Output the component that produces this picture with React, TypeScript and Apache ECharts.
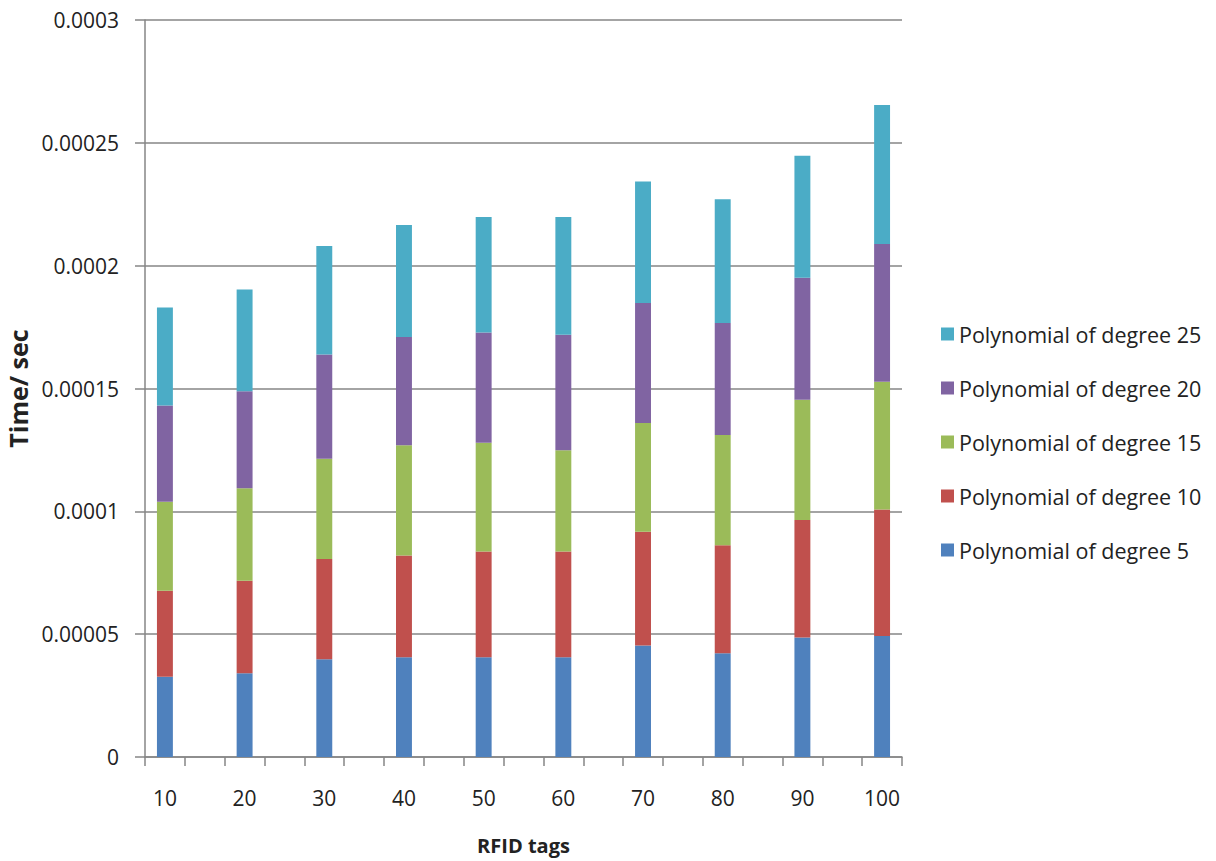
import React, { useEffect, useRef } from "react";
import * as echarts from "echarts";

const tags = ["10", "20", "30", "40", "50", "60", "70", "80", "90", "100"];
const seriesNames = [
  "Polynomial of degree 5",
  "Polynomial of degree 10",
  "Polynomial of degree 15",
  "Polynomial of degree 20",
  "Polynomial of degree 25",
];
const deg5 = [3.27e-5, 3.41e-5, 3.98e-5, 4.06e-5, 4.06e-5, 4.06e-5, 4.54e-5, 4.22e-5, 4.86e-5, 4.93e-5];
const deg10 = [3.5e-5, 3.76e-5, 4.08e-5, 4.14e-5, 4.31e-5, 4.31e-5, 4.63e-5, 4.4e-5, 4.79e-5, 5.14e-5];
const deg15 = [3.62e-5, 3.77e-5, 4.08e-5, 4.49e-5, 4.42e-5, 4.12e-5, 4.43e-5, 4.49e-5, 4.89e-5, 5.2e-5];
const deg20 = [3.92e-5, 3.95e-5, 4.24e-5, 4.41e-5, 4.49e-5, 4.7e-5, 4.88e-5, 4.56e-5, 4.97e-5, 5.61e-5];
const deg25 = [3.99e-5, 4.14e-5, 4.42e-5, 4.56e-5, 4.7e-5, 4.79e-5, 4.95e-5, 5.03e-5, 4.96e-5, 5.66e-5];
const colors = ["#4F81BD", "#C0504D", "#9BBB59", "#8064A2", "#4BACC6"];
const yTicks = [0, 0.00005, 0.0001, 0.00015, 0.0002, 0.00025, 0.0003];

// Excel-style axis: a blank slot between each labelled category
const categories: string[] = [];
tags.forEach((t, i) => {
  categories.push(t);
  if (i < tags.length - 1) categories.push("");
});
const spread = (vals: number[]) => {
  const out: (number | string)[] = [];
  vals.forEach((v, i) => {
    out.push(v);
    if (i < vals.length - 1) out.push("-");
  });
  return out;
};

const FONT = "'Open Sans', sans-serif";

export default function App() {
  const ref = useRef<HTMLDivElement>(null);
  useEffect(() => {
    if (!ref.current) return;
    const chart = echarts.init(ref.current, undefined, { renderer: "svg" });
    const all = [deg5, deg10, deg15, deg20, deg25];
    chart.setOption({
      animation: false,
      backgroundColor: "#ffffff",
      grid: {
        left: 145,
        right: 314,
        top: 20,
        bottom: 104,
        containLabel: false,
        outerBoundsMode: "none",
      },
      legend: {
        orient: "vertical",
        left: 936,
        top: 318,
        itemWidth: 13,
        itemHeight: 13,
        itemGap: 32,
        icon: "rect",
        data: [...seriesNames].reverse(),
        textStyle: { fontFamily: FONT, fontSize: 21.5, color: "#222", lineHeight: 22 },
      },
      xAxis: {
        type: "category",
        data: categories,
        boundaryGap: true,
        name: "RFID tags",
        nameLocation: "middle",
        nameGap: 78,
        nameTextStyle: { fontFamily: FONT, fontSize: 20, fontWeight: "bold", color: "#222" },
        axisLine: { lineStyle: { color: "#868686", width: 1.5 } },
        axisTick: { show: true, interval: 0, length: 9, lineStyle: { color: "#868686", width: 1.5 } },
        axisLabel: { interval: 0, margin: 30, fontFamily: FONT, fontSize: 21, color: "#222" },
        splitLine: { show: false },
      },
      yAxis: {
        type: "value",
        min: 0,
        max: yTicks[yTicks.length - 1],
        interval: yTicks[1],
        name: "Time/ sec",
        nameLocation: "middle",
        nameGap: 109,
        nameRotate: 90,
        nameTextStyle: { fontFamily: FONT, fontSize: 25, fontWeight: "bold", color: "#222" },
        axisLine: { show: true, lineStyle: { color: "#868686", width: 1.5 } },
        axisTick: { show: true, length: 10, lineStyle: { color: "#868686", width: 1.5 } },
        axisLabel: {
          margin: 26,
          fontFamily: FONT,
          fontSize: 21,
          color: "#222",
          formatter: (v: number) => (v === 0 ? "0" : String(Number(v.toFixed(6)))),
        },
        splitLine: { show: true, lineStyle: { color: "#868686", width: 1.5 } },
      },
      series: all.map((vals, i) => ({
        name: seriesNames[i],
        type: "bar",
        stack: "total",
        barWidth: "40%",
        data: spread(vals),
        itemStyle: { color: colors[i] },
      })),
    });
    return () => chart.dispose();
  }, []);
  return (
    <div
      ref={ref}
      style={{ position: "absolute", left: 0, top: 0, width: 1216, height: 861 }}
    />
  );
}
